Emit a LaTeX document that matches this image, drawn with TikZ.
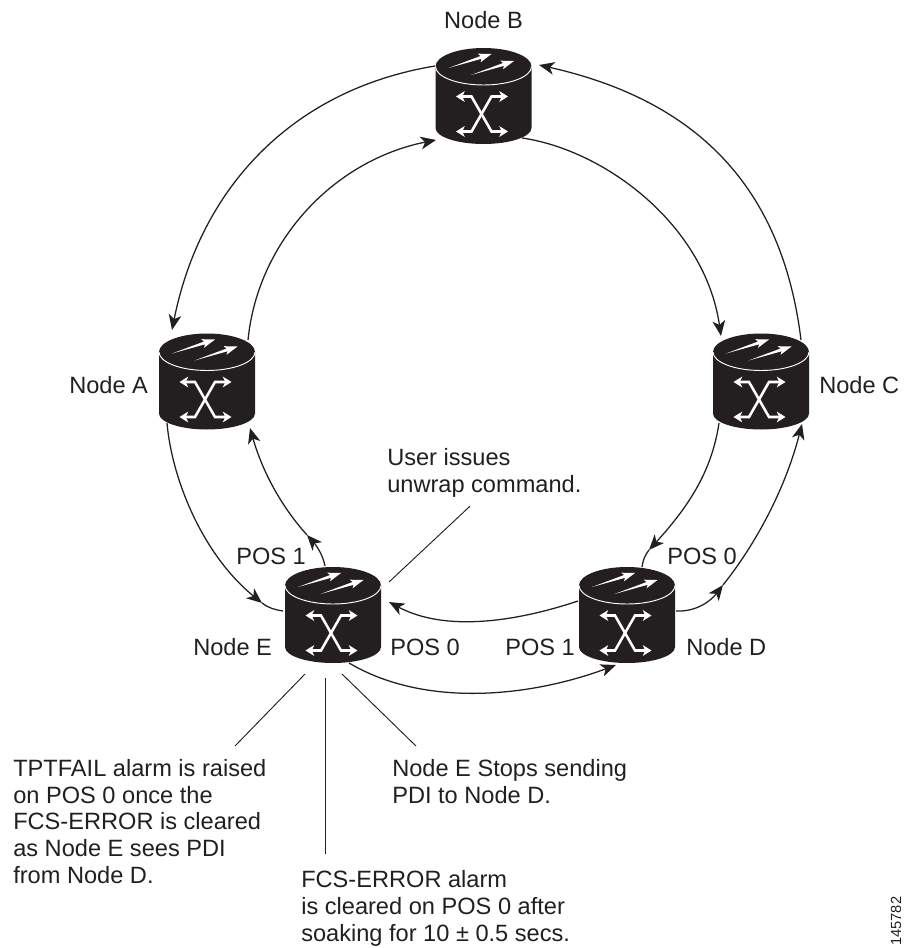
\documentclass[tikz,border=0pt]{standalone}
\usepackage{fontspec}
\setmainfont{Liberation Sans}
\usetikzlibrary{arrows.meta,calc}
\definecolor{ink}{HTML}{231F20}
\tikzset{
  conn/.style={draw=ink,line width=0.95pt},
  tipped/.style={conn,-{Stealth[length=11.5pt,width=9.5pt,inset=3.2pt,color=ink]}},
  leader/.style={draw=ink,line width=0.7pt},
  lbl/.style={anchor=base west,inner sep=0pt,text=ink,align=left,font=\fontsize{17.7pt}{20pt}\selectfont},
  hole/.style={minimum width=72pt,minimum height=72pt,inner sep=0pt,outer sep=0pt},
  whitex/.style={draw=white,line width=1.9pt,line join=miter,{Stealth[length=6.5pt,width=8pt,inset=1.8pt,color=white]}-{Stealth[length=6.5pt,width=8pt,inset=1.8pt,color=white]}}
}
\newcommand{\topshape}{(-35,-28) -- (-2,-37.2) -- (-2.95,-33.7) -- (8,-42) -- (-5.75,-42.3) -- (-2.9,-40) -- cycle}
\newcommand{\routernode}[3]{%
  \node[hole] (#1) at (#2,#3) {};
  \begin{scope}[shift={(#1.center)}]
    \fill[ink] (-48,-29.5) .. controls (-48,-39.7) and (-26.5,-48) .. (0,-48)
      .. controls (26.5,-48) and (48,-39.7) .. (48,-29.5) -- (48,32)
      .. controls (48,40.8) and (26.5,48) .. (0,48)
      .. controls (-26.5,48) and (-48,40.8) .. (-48,32) -- cycle;
    \draw[white,line width=0.7pt] (-48,-29.5) .. controls (-48,-19.3) and (-26.5,-11) .. (0,-11)
      .. controls (26.5,-11) and (48,-19.3) .. (48,-29.5);
    \fill[white] \topshape;
    \begin{scope}[shift={(22.5,7)}]\fill[white] \topshape;\end{scope}
    \draw[whitex] (-27.5,0.5) -- (-12,0.5) -- (8,35.5) -- (24.5,35.5);
    \draw[whitex] (24.5,0.5) -- (8,0.5) -- (-12,35.5) -- (-27.5,35.5);
  \end{scope}}
\begin{document}
\begin{tikzpicture}[x=0.75pt,y=-0.75pt]
\useasboundingbox (0,0) rectangle (903,948);
\routernode{nB}{483.5}{96}
\routernode{nA}{207}{381.5}
\routernode{nC}{761}{381.5}
\routernode{nE}{333}{615}
\routernode{nD}{627}{615}
% ring connectors
\draw[tipped] ($(nB)+(-48.5,-30)$) .. controls (290,90) and (200,190) .. ($(nA)+(-35,-51.5)$);
\draw[tipped] ($(nA)+(41,-41.5)$) .. controls (258,240) and (335,160) .. ($(nB)+(-47.5,44)$);
\draw[tipped] ($(nC)+(40,-41.5)$) .. controls (782,185) and (695,100) .. ($(nB)+(55.5,-31)$);
\draw[tipped] ($(nB)+(38.5,42)$) .. controls (605,150) and (705,225) .. ($(nC)+(-40,-45.5)$);
% A to E, with the head part way
\coordinate (aeMid) at ($(nE)+(-71,-12)$);
\draw[tipped] ($(nA)+(-40,41.5)$) .. controls (172,480) and (203,555) .. (aeMid);
\draw[conn] (aeMid) .. controls (268,608) and (276,610) .. ($(nE)+(-50,-4)$);
% E to A
\coordinate (eaMid) at ($(nE)+(-26,-80)$);
\draw[tipped] ($(nE)+(-8,-49)$) .. controls (323,555) and (316,545) .. (eaMid);
\draw[tipped] (eaMid) .. controls (280,505) and (262,470) .. ($(nA)+(43,46.5)$);
% C to D
\coordinate (cdMid) at ($(nD)+(22,-65)$);
\draw[tipped] ($(nC)+(-42,41.5)$) .. controls (712,470) and (690,505) .. (cdMid);
\draw[conn] (cdMid) .. controls (645,555) and (643,560) .. ($(nD)+(15,-48)$);
% D to C
\coordinate (dcMid) at ($(nD)+(96,-30)$);
\draw[tipped] ($(nD)+(49,-4)$) .. controls (695,612) and (710,602) .. (dcMid);
\draw[tipped] (dcMid) .. controls (755,545) and (785,490) .. ($(nC)+(41,42.5)$);
% D and E
\draw[tipped] ($(nD)+(-49,-14)$) .. controls (515,622) and (445,632) .. ($(nE)+(56,-13)$);
\draw[tipped] ($(nE)+(16,48)$) .. controls (425,708) and (530,697) .. ($(nD)+(-11,50)$);
% labels
\node[lbl,anchor=base] (tB) at (483.5,29) {Node B};
\node[lbl] (tA) at (69,393) {Node A};
\node[lbl] (tC) at (819,393) {Node C};
\node[lbl] (tE) at (193,655) {Node E};
\node[lbl] (tD) at (686,655) {Node D};
\node[lbl] (tp1) at (236,564) {POS 1};
\node[lbl] (tp0) at (667,564) {POS 0};
\node[lbl] (tp0b) at (390,655) {POS 0};
\node[lbl] (tp1b) at (505,655) {POS 1};
\node[lbl] (tUser) at (387,492) {User issues\\unwrap command.};
\node[lbl] (tTpt) at (13,883) {TPTFAIL alarm is raised\\on POS 0 once the\\FCS-ERROR is cleared\\as Node E sees PDI\\from Node D.};
\node[lbl] (tStop) at (392,803) {Node E Stops sending\\PDI to Node D.};
\node[lbl] (tFcs) at (301,941) {FCS-ERROR alarm\\is cleared on POS 0 after\\soaking for 10 ± 0.5 secs.};
\node[anchor=base west,inner sep=0pt,text=ink,rotate=90,font=\fontsize{11pt}{13pt}\selectfont] (tNum) at (901,946) {145782};
% leaders
\coordinate (uEnd) at ($(tUser.south west)+(83,9)$);
\draw[leader] ($(nE)+(56,-33)$) -- (uEnd);
\coordinate (l1) at (235,746);
\coordinate (l2) at (325,854);
\coordinate (l3) at (416,746);
\draw[leader] ($(nE)+(-28,59)$) -- (l1);
\draw[leader] ($(nE)+(-8,63)$) -- (l2);
\draw[leader] ($(nE)+(9,59)$) -- (l3);
\end{tikzpicture}
\end{document}
